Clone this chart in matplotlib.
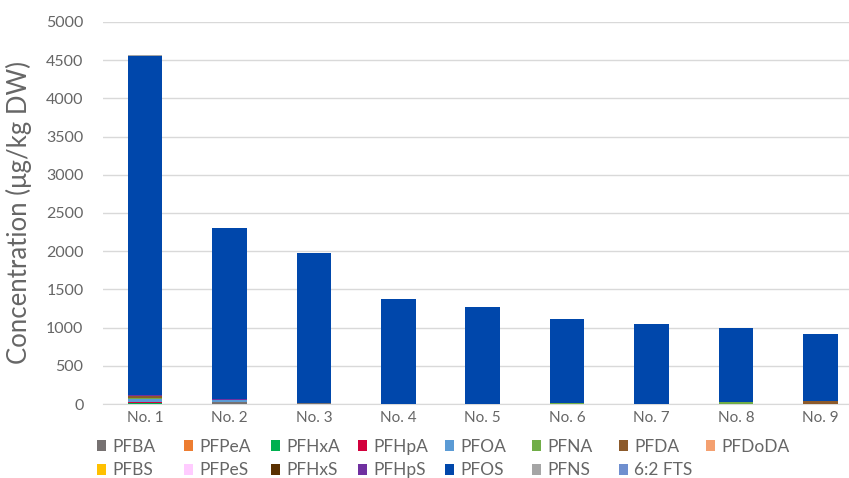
import matplotlib.pyplot as plt
import numpy as np
from matplotlib.patches import Patch

plt.rcParams['font.family'] = ['Lato', 'DejaVu Sans']

probki = ['No. 1', 'No. 2', 'No. 3', 'No. 4', 'No. 5', 'No. 6', 'No. 7', 'No. 8', 'No. 9']

zwiazki = ['PFBA', 'PFPeA', 'PFHxA', 'PFHpA', 'PFOA', 'PFNA', 'PFDA', 'PFDoDA',
           'PFBS', 'PFPeS', 'PFHxS', 'PFHpS', 'PFOS', 'PFNS', '6:2 FTS']

kolory = ['#767171', '#ED7D31', '#00B050', '#D2003C', '#5B9BD5', '#70AD47', '#8C5A2B', '#F4A070',
          '#FFC000', '#FFCCFF', '#5A3000', '#7030A0', '#0047AB', '#A5A5A5', '#6F8FCF']

# wartosci (ug/kg DW), kolejnosc jak probki
PFBA = [5, 20, 10, 0, 0, 0, 0, 0, 0]
PFPeA = [0, 0, 0, 0, 0, 0, 0, 0, 0]
PFHxA = [5, 0, 0, 0, 0, 0, 0, 0, 0]
PFHpA = [10, 0, 0, 0, 0, 0, 0, 0, 0]
PFOA = [45, 35, 0, 0, 0, 0, 0, 0, 0]
PFNA = [20, 0, 0, 0, 0, 15, 0, 25, 0]
PFDA = [15, 0, 0, 5, 0, 0, 0, 0, 35]
PFDoDA = [0, 0, 0, 0, 0, 0, 0, 0, 0]
PFBS = [0, 0, 0, 0, 0, 0, 0, 0, 0]
PFPeS = [0, 0, 0, 0, 0, 0, 0, 0, 0]
PFHxS = [0, 0, 0, 0, 0, 0, 0, 0, 0]
PFHpS = [15, 15, 0, 0, 0, 0, 0, 0, 0]
PFOS = [4440, 2240, 1970, 1365, 1275, 1095, 1050, 965, 885]
PFNS = [12, 0, 0, 0, 0, 0, 0, 0, 0]
FTS62 = [0, 0, 0, 0, 0, 0, 0, 0, 0]

serie = [PFBA, PFPeA, PFHxA, PFHpA, PFOA, PFNA, PFDA, PFDoDA,
         PFBS, PFPeS, PFHxS, PFHpS, PFOS, PFNS, FTS62]

W, H = 849, 478
fig = plt.figure(figsize=(W / 100, H / 100), dpi=100)
ax = fig.add_axes([103 / W, 1 - 404 / H, (W - 103) / W, (404 - 22) / H])

x = np.arange(len(probki))
dol = np.zeros(len(probki))
for nazwa, wart, kol in zip(zwiazki, serie, kolory):
    ax.bar(x, wart, bottom=dol, width=0.41, color=kol, label=nazwa, zorder=3)
    dol += np.array(wart)

ax.set_ylim(0, 5000)
ax.set_yticks(np.arange(0, 5001, 500))
ax.set_xlim(-0.5, 8.34)
ax.set_xticks(x)
ax.set_xticklabels(probki)
ax.yaxis.grid(True, color='#D9D9D9', linewidth=1, zorder=0)
for s in ['top', 'right', 'left']:
    ax.spines[s].set_visible(False)
ax.spines['bottom'].set_color('#D9D9D9')
ax.tick_params(axis='y', length=0, pad=14, labelsize=11.5, labelcolor='#666666')
ax.tick_params(axis='x', length=0, pad=5, labelsize=11, labelcolor='#666666')
ax.set_ylabel('Concentration (μg/kg DW)', fontsize=18.5, color='#666666', labelpad=10)

# legenda - kolumny rowno rozstawione jak w Excelu
for j in range(8):
    uchwyty = []
    for k in (j, j + 8):
        if k < len(zwiazki):
            uchwyty.append(Patch(facecolor=kolory[k], label=zwiazki[k]))
    fig.legend(handles=uchwyty, loc='upper left', bbox_to_anchor=((88 + 87 * j) / W, 1 - 430 / H),
               frameon=False, fontsize=12.5, labelcolor='#666666', handlelength=0.55,
               handleheight=0.55, handletextpad=0.35, labelspacing=0.45, borderpad=0)

fig.savefig('out.png', dpi=100)
